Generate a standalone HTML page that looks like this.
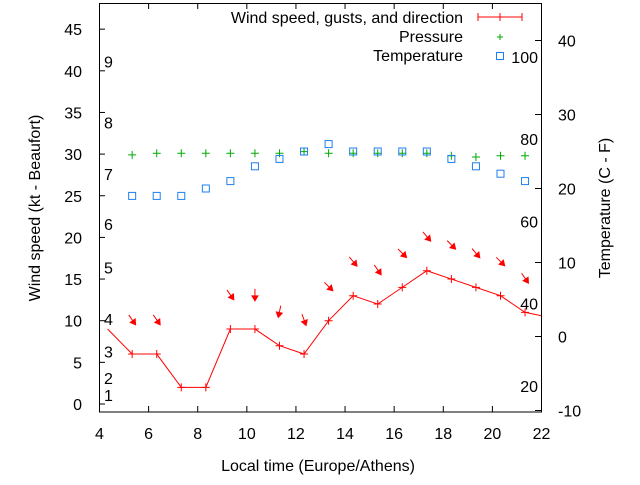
<!DOCTYPE html>
<html><head><meta charset="utf-8"><style>
body{margin:0;background:#fff}
svg{font-family:"Liberation Sans",sans-serif;font-size:16px}
</style></head><body>
<svg id="c" width="640" height="480" viewBox="0 0 640 480">
<defs><clipPath id="pa"><rect x="99" y="3" width="442" height="409"/></clipPath></defs>
<rect x="99.5" y="3.5" width="442" height="408.5" fill="none" stroke="#000" stroke-width="1"/>
<g id="axes"></g>
<g id="marks" clip-path="url(#pa)"></g>
<text x="318" y="471" text-anchor="middle">Local time (Europe/Athens)</text>
<text transform="translate(40,208) rotate(-90)" text-anchor="middle">Wind speed (kt - Beaufort)</text>
<text transform="translate(610,208) rotate(-90)" text-anchor="middle">Temperature (C - F)</text>
<g>
<text x="463" y="23" text-anchor="end">Wind speed, gusts, and direction</text>
<g stroke="#f00" stroke-width="1"><line x1="478" y1="17" x2="522" y2="17"/><line x1="478" y1="13" x2="478" y2="21"/><line x1="522" y1="13" x2="522" y2="21"/><line x1="500" y1="13" x2="500" y2="21"/></g>
<text x="463" y="42" text-anchor="end">Pressure</text>
<g stroke="#0a0"><line x1="497" y1="37" x2="503" y2="37"/><line x1="500" y1="34" x2="500" y2="40"/></g>
<text x="463" y="61" text-anchor="end">Temperature</text>
<rect x="496.5" y="52.5" width="7" height="7" fill="none" stroke="#1e7ff0"/>
</g>
</svg>
<script>
const hours=[5.33,6.33,7.33,8.33,9.33,10.33,11.33,12.33,13.33,14.33,15.33,16.33,17.33,18.33,19.33,20.33,21.33];
const wind=[6,6,2,2,9,9,7,6,10,13,12,14,16,15,14,13,11];
const windBefore=[4.33,9];
const windAfter=[22.33,10.4];
const dirAngle=[35,35,null,null,35,0,-12,20,45,40,35,45,40,45,40,45,35];
const pressure=[29.9,30.1,30.1,30.1,30.1,30.1,30.1,30.3,30.1,30.1,30.1,30.1,30.1,29.8,29.65,29.8,29.8];
const temperature=[19,19,19,20,21,23,24,25,26,25,25,25,25,24,23,22,21];
const xTicks=[4,6,8,10,12,14,16,18,20,22];
const yTicks=[0,5,10,15,20,25,30,35,40,45];
const y2Ticks=[-10,0,10,20,30,40];
const beaufort=[["1",1.1],["2",3.1],["3",6.3],["4",10.2],["5",16.4],["6",21.6],["7",27.6],["8",33.8],["9",41.1]];
const fahrenheit=[20,40,60,80,100];
const X=h=>99.5+(h-4)*(442/18);
const Y=v=>404-v*8.33;
const Y2=t=>336.5-t*7.4;
const NS="http://www.w3.org/2000/svg";
const ax=document.getElementById('axes'),mk=document.getElementById('marks');
function el(p,tag,a,txt){const e=document.createElementNS(NS,tag);for(const k in a)e.setAttribute(k,a[k]);if(txt!==undefined)e.textContent=txt;p.appendChild(e);return e;}
xTicks.forEach(h=>{const x=X(h);
const t=el(ax,'line',{x1:x,y1:412,x2:x,y2:406,stroke:'#000'});


const t2=el(ax,'line',{x1:x,y1:3,x2:x,y2:9,stroke:'#000'});


const l=el(ax,'text',{x:x,y:439,'text-anchor':'middle'},String(h));

});
yTicks.forEach(v=>{const y=Y(v);
const t=el(ax,'line',{x1:99,y1:y,x2:105,y2:y,stroke:'#000'});


const l=el(ax,'text',{x:82,y:y+6,'text-anchor':'end'},String(v));

});
y2Ticks.forEach(v=>{const y=Y2(v);
const t=el(ax,'line',{x1:535,y1:y,x2:541,y2:y,stroke:'#000'});


const l=el(ax,'text',{x:558,y:y+6},String(v));

});
beaufort.forEach(b=>{const l=el(ax,'text',{x:104,y:Y(b[1])+6},b[0]);

});
fahrenheit.forEach(f=>{const l=el(ax,'text',{x:538,y:Y2((f-32)*5/9)+6,'text-anchor':'end'},String(f));

});
const pts=[[windBefore[0],windBefore[1]]].concat(hours.map((h,i)=>[h,wind[i]])).concat([[windAfter[0],windAfter[1]]]);
const pl=el(mk,'polyline',{points:pts.map(p=>X(p[0])+','+Y(p[1])).join(' '),fill:'none',stroke:'#f00','stroke-width':1});


hours.forEach((h,i)=>{const x=X(h),y=Y(wind[i]);
const g=el(mk,'path',{d:`M${x-4},${y}H${x+4}M${x},${y-4}V${y+4}`,stroke:'#f00'});


if(dirAngle[i]!==null){const a=dirAngle[i]*Math.PI/180,cx=x,cy=Y(wind[i]+4.1),L=6;
const dx=Math.sin(a)*L,dy=Math.cos(a)*L;const ex=cx+dx,ey=cy+dy;
const ux=dx/L,uy=dy/L;
const ar=el(mk,'path',{d:`M${cx-dx},${cy-dy}L${ex},${ey}M${ex},${ey}L${ex-ux*5-uy*3},${ey-uy*5+ux*3}L${ex-ux*5+uy*3},${ey-uy*5-ux*3}Z`,stroke:'#f00',fill:'#f00'});

}});
pressure.forEach((p,i)=>{const x=X(hours[i]),y=Y(p);
const g=el(mk,'path',{d:`M${x-4},${y}H${x+4}M${x},${y-4}V${y+4}`,stroke:'#0a0'});

});
temperature.forEach((t,i)=>{const x=X(hours[i]),y=Y2(t);
const r=el(mk,'rect',{x:x-3.5,y:y-3.5,width:7,height:7,fill:'none',stroke:'#1e7ff0'});

});
</script>
</body></html>
